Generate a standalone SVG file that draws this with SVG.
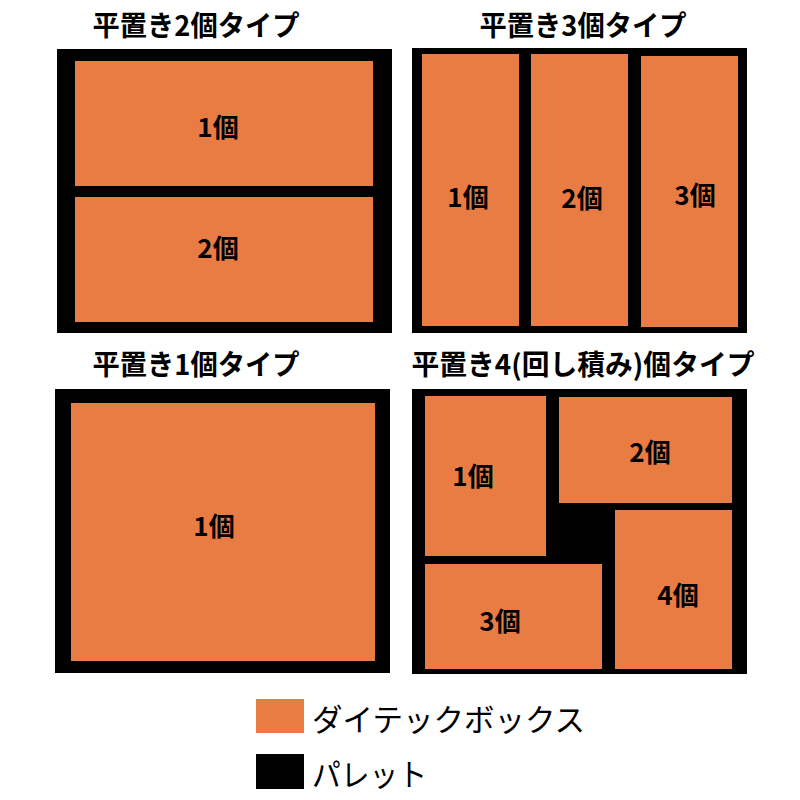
<svg xmlns="http://www.w3.org/2000/svg" width="800" height="800" viewBox="0 0 800 800">
<style>
.pal{fill:#000}
.box{fill:#E87C42}
.t{font-family:"Noto Sans CJK JP","Noto Sans",sans-serif;font-weight:bold;fill:#000}
.title{font-size:28px;text-anchor:middle}
.lbl{font-size:26px;text-anchor:middle}
.leg{font-family:"Noto Sans CJK JP","Noto Sans",sans-serif;font-size:31px;fill:#000}
</style>
<rect width="800" height="800" fill="#fff"/>
<g id="panel-2">
  <text class="t title" x="196" y="36" textLength="207" lengthAdjust="spacingAndGlyphs">平置き2個タイプ</text>
  <rect class="pal" x="57" y="49" width="335" height="284"/>
  <g id="p2-box1"><rect class="box" x="75" y="61" width="298" height="125"/><text class="t lbl" x="218" y="137">1個</text></g>
  <g id="p2-box2"><rect class="box" x="75" y="197" width="298" height="125"/><text class="t lbl" x="218" y="258">2個</text></g>
</g>
<g id="panel-3">
  <text class="t title" x="583" y="36" textLength="207" lengthAdjust="spacingAndGlyphs">平置き3個タイプ</text>
  <rect class="pal" x="412" y="48" width="335" height="285"/>
  <g id="p3-box1"><rect class="box" x="422" y="54" width="97" height="272"/><text class="t lbl" x="468" y="207">1個</text></g>
  <g id="p3-box2"><rect class="box" x="531" y="54" width="97" height="272"/><text class="t lbl" x="582" y="208">2個</text></g>
  <g id="p3-box3"><rect class="box" x="641" y="56" width="97" height="271"/><text class="t lbl" x="695" y="205">3個</text></g>
</g>
<g id="panel-1">
  <text class="t title" x="196" y="375" textLength="207" lengthAdjust="spacingAndGlyphs">平置き1個タイプ</text>
  <rect class="pal" x="55" y="389" width="335" height="284"/>
  <g id="p1-box1"><rect class="box" x="71" y="403" width="304" height="258"/><text class="t lbl" x="214" y="536">1個</text></g>
</g>
<g id="panel-4">
  <text class="t title" x="583" y="375" textLength="343" lengthAdjust="spacingAndGlyphs">平置き4(回し積み)個タイプ</text>
  <rect class="pal" x="412" y="389" width="335" height="285"/>
  <g id="p4-box1"><rect class="box" x="425" y="396" width="121" height="160"/><text class="t lbl" x="473" y="486">1個</text></g>
  <g id="p4-box2"><rect class="box" x="559" y="397" width="173" height="106"/><text class="t lbl" x="650" y="462">2個</text></g>
  <g id="p4-box3"><rect class="box" x="425" y="564" width="177" height="105"/><text class="t lbl" x="500" y="631">3個</text></g>
  <g id="p4-box4"><rect class="box" x="615" y="510" width="117" height="159"/><text class="t lbl" x="678" y="605">4個</text></g>
</g>
<g id="connectors"></g>
<g id="legend">
  <g id="legend-box"><rect class="box" x="256" y="699" width="48" height="34"/><text class="leg" x="312" y="731" textLength="273" lengthAdjust="spacingAndGlyphs">ダイテックボックス</text></g>
  <g id="legend-pallet"><rect class="pal" x="256" y="754" width="48" height="35"/><text class="leg" x="312" y="786" textLength="115" lengthAdjust="spacingAndGlyphs">パレット</text></g>
</g>
</svg>
